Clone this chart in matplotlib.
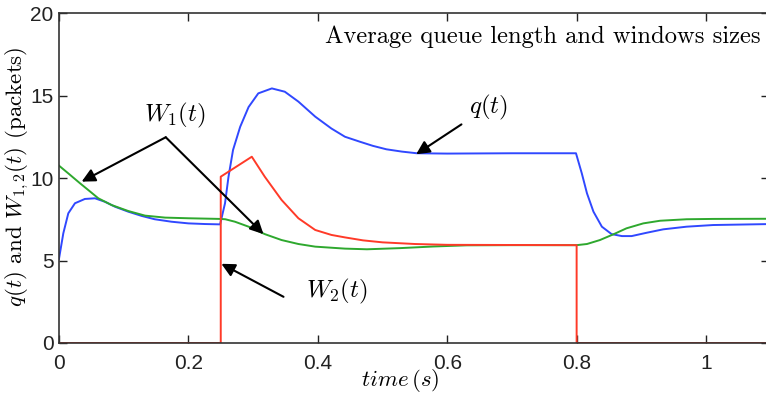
import matplotlib
matplotlib.use("Agg")
import matplotlib.pyplot as plt

plt.rcParams['mathtext.fontset'] = 'cm'
plt.rcParams['font.family'] = ['Liberation Sans', 'DejaVu Sans']

# queue length q(t)
t_q = [0.0, 0.0067, 0.0144, 0.0247, 0.040, 0.0556, 0.071, 0.0866, 0.107, 0.128, 0.148,
       0.174, 0.2, 0.226, 0.249,
       0.2566, 0.262, 0.269, 0.28, 0.293, 0.308, 0.329, 0.349, 0.37, 0.396, 0.421,
       0.442, 0.465, 0.485, 0.506, 0.53, 0.553, 0.6, 0.7, 0.799,
       0.808, 0.816, 0.826, 0.839, 0.854, 0.870, 0.885, 0.908, 0.934, 0.970, 1.011, 1.1]
q = [5.1, 6.65, 7.86, 8.47, 8.73, 8.77, 8.56, 8.26, 7.96, 7.7, 7.5,
     7.35, 7.25, 7.21, 7.19,
     8.47, 10.08, 11.7, 13.1, 14.3, 15.13, 15.43, 15.23, 14.63, 13.72, 13.0,
     12.5, 12.2, 11.95, 11.74, 11.6, 11.5, 11.48, 11.5, 11.5,
     10.28, 9.07, 7.96, 7.05, 6.6, 6.48, 6.48, 6.68, 6.89, 7.05, 7.15, 7.21]

# window of flow 1
t_w1 = [0.0, 0.0144, 0.0325, 0.0453, 0.0608, 0.0814, 0.107, 0.133, 0.164, 0.2, 0.249,
        0.257, 0.272, 0.293, 0.318, 0.344, 0.37, 0.396, 0.442, 0.476, 0.527, 0.579,
        0.63, 0.7, 0.8, 0.816, 0.836, 0.857, 0.877, 0.903, 0.929, 0.970, 1.011, 1.1]
w1 = [10.75, 10.28, 9.68, 9.27, 8.77, 8.36, 8.0, 7.72, 7.6, 7.56, 7.52,
      7.5, 7.35, 7.05, 6.6, 6.24, 6.0, 5.84, 5.72, 5.68, 5.75, 5.85,
      5.92, 5.93, 5.93, 6.0, 6.24, 6.59, 6.95, 7.25, 7.41, 7.5, 7.52, 7.53]

# window of flow 2
t_w2 = [0.0, 0.25, 0.25, 0.298, 0.318, 0.344, 0.37, 0.396, 0.421, 0.442, 0.47,
        0.5, 0.55, 0.6, 0.8, 0.8, 1.1]
w2 = [0.0, 0.0, 10.08, 11.29, 10.08, 8.67, 7.56, 6.85, 6.55, 6.4, 6.22,
      6.1, 6.0, 5.95, 5.93, 0.0, 0.0]

fig = plt.figure(figsize=(7.66, 3.98), dpi=100)
ax = fig.add_axes([0.077, 0.1382, 0.927, 0.8291])

ax.plot(t_q, q, color='#3048ff', lw=1.4)
ax.plot(t_w1, w1, color='#2ea82e', lw=1.4)
ax.plot(t_w2, w2, color='#ff3a28', lw=1.4)

ax.set_xlim(0, 1.0974)
ax.set_ylim(0, 20)
ax.set_xticks([0, 0.2, 0.4, 0.6, 0.8, 1.0])
ax.set_xticklabels(['0', '0.2', '0.4', '0.6', '0.8', '1'])
ax.set_yticks([0, 5, 10, 15, 20])
ax.tick_params(direction='in', length=6, width=1, top=True, right=True,
               labelsize=15, colors='#222222')
ax.tick_params(axis='x', pad=8)
ax.tick_params(axis='y', pad=4)
for s in ax.spines.values():
    s.set_color('#333333')
    s.set_linewidth(1.2)

ax.set_xlabel(r'$time\,(s)$', fontsize=16.5)
ax.xaxis.set_label_coords((400 - 59) / 710, -(381 - 343) / 330, transform=ax.transAxes)
ax.xaxis.label.set_va('center')
ax.set_ylabel(r'$q(t)$ and $W_{1,2}(t)$ (packets)', fontsize=16.5, family='cmr10')
ax.yaxis.set_label_coords(-(59 - 17) / 710, 0.505)
ax.yaxis.label.set_va('center')

ax.text(1.084, 18.55, 'Average queue length and windows sizes', family='cmr10',
        fontsize=17.7, ha='right', va='center')

arrow = dict(arrowstyle='-|>', color='black', lw=1.5, mutation_scale=20, shrinkA=0, shrinkB=0)
ax.text(0.179, 13.8, r'$W_1(t)$', fontsize=18, ha='center', va='center')
ax.annotate('', xy=(0.035, 9.78), xytext=(0.165, 12.47), arrowprops=arrow)
ax.annotate('', xy=(0.316, 6.6), xytext=(0.165, 12.47), arrowprops=arrow)

ax.text(0.664, 14.3, r'$q(t)$', fontsize=18, ha='center', va='center')
ax.annotate('', xy=(0.552, 11.44), xytext=(0.622, 13.25), arrowprops=arrow)

ax.text(0.43, 3.1, r'$W_2(t)$', fontsize=18, ha='center', va='center')
ax.annotate('', xy=(0.251, 4.8), xytext=(0.347, 2.8), arrowprops=arrow)

fig.savefig('out.png', dpi=100)
